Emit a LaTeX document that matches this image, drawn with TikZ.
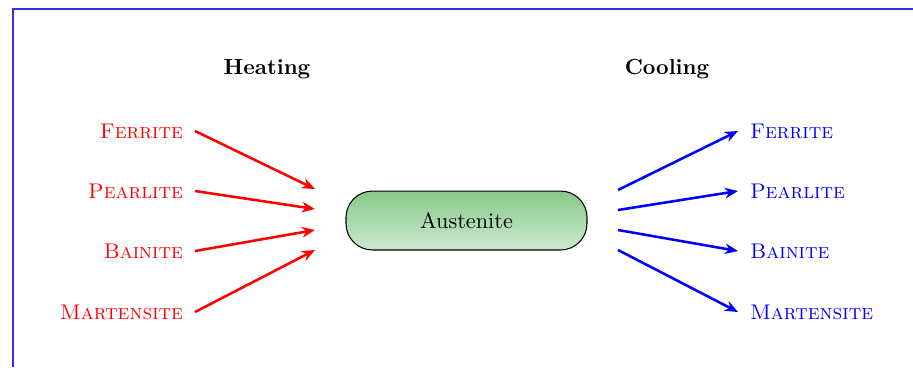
\documentclass[tikz,border=0pt]{standalone}
\usetikzlibrary{arrows.meta}
\definecolor{framec}{RGB}{50,50,230}
\definecolor{gtop}{RGB}{134,201,138}
\definecolor{gbot}{RGB}{205,233,207}
\begin{document}
\begin{tikzpicture}[x=0.4717pt,y=-0.4717pt,
  heatlbl/.style={text=red, inner sep=0pt, outer sep=5.66pt, anchor=east, font=\fontsize{10}{12}\selectfont},
  coollbl/.style={text=blue, inner sep=0pt, outer sep=5.66pt, anchor=west, font=\fontsize{10}{12}\selectfont},
  headlbl/.style={inner sep=0pt, font=\fontsize{10.3}{12}\selectfont\bfseries},
  tarrow/.style={line width=1.2pt, -{Stealth[length=6.2pt,width=5pt,inset=2pt]}},
  phase/.style={draw=black, line width=0.5pt, rounded corners=12.5pt, top color=gtop, bottom color=gbot,
    minimum width=113.7pt, minimum height=27.8pt, inner sep=0pt, font=\fontsize{10.5}{12}\selectfont}
]
\useasboundingbox (0,0) rectangle (913,367);
\fill[white] (0,0) rectangle (913,367);
\draw[framec, line width=0.6pt] (13,367) -- (13,9) -- (913,9);

\node[headlbl] (heat) at (267,69) {Heating};
\node[headlbl] (cool) at (667,69) {Cooling};

\node[phase] (aus) at (466.5,220.5) {Austenite};

\node[heatlbl] (lf) at (195,131) {\textsc{Ferrite}};
\node[heatlbl] (lp) at (195,191) {\textsc{Pearlite}};
\node[heatlbl] (lb) at (195,251) {\textsc{Bainite}};
\node[heatlbl] (lm) at (195,312) {\textsc{Martensite}};

\node[coollbl] (rf) at (738,131) {\textsc{Ferrite}};
\node[coollbl] (rp) at (738,191) {\textsc{Pearlite}};
\node[coollbl] (rb) at (738,251) {\textsc{Bainite}};
\node[coollbl] (rm) at (738,312) {\textsc{Martensite}};

\coordinate (ha) at (315,189);
\coordinate (hb) at (315,209);
\coordinate (hc) at (315,230);
\coordinate (hd) at (315,250);
\coordinate (ca) at (618,190);
\coordinate (cb) at (618,210);
\coordinate (cc) at (618,230);
\coordinate (cd) at (618,250);

\draw[tarrow, red] (lf.east) -- (ha);
\draw[tarrow, red] (lp.east) -- (hb);
\draw[tarrow, red] (lb.east) -- (hc);
\draw[tarrow, red] (lm.east) -- (hd);

\draw[tarrow, blue] (ca) -- (rf.west);
\draw[tarrow, blue] (cb) -- (rp.west);
\draw[tarrow, blue] (cc) -- (rb.west);
\draw[tarrow, blue] (cd) -- (rm.west);
\end{tikzpicture}
\end{document}
